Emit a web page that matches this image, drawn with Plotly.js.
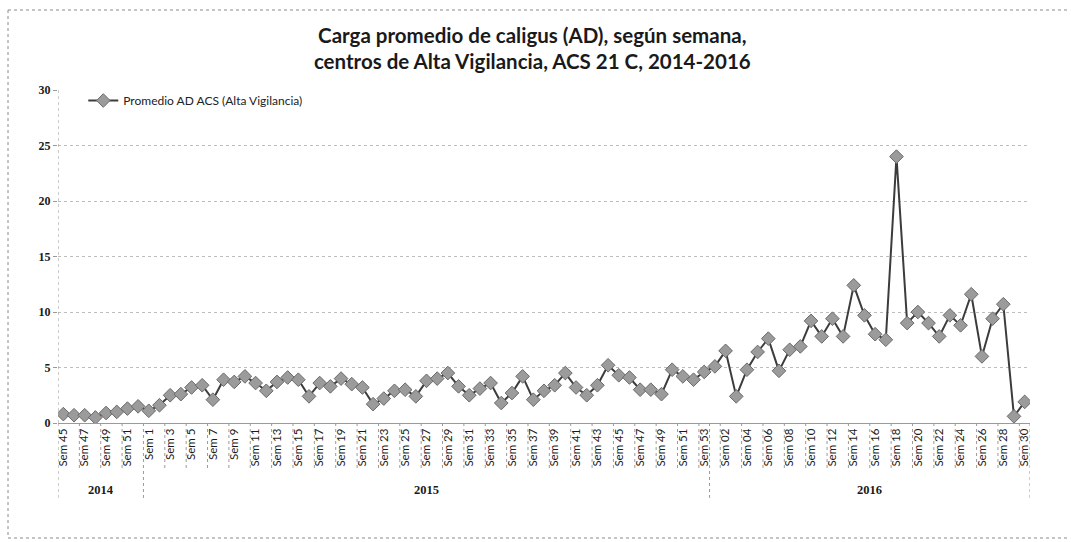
<!DOCTYPE html>
<html>
<head>
<meta charset="utf-8">
<script src="https://cdn.plot.ly/plotly-3.0.1.min.js"></script>
<style>html,body{margin:0;padding:0;background:#fff;}#chart{width:1071px;height:542px;}</style>
</head>
<body>
<div id="chart"></div>
<script>
// ---- Data ----
const years = ["2014", "2015", "2016"];

const weeks2014 = ["Sem 45","Sem 46","Sem 47","Sem 48","Sem 49","Sem 50","Sem 51","Sem 52"];
const values2014 = [0.8, 0.7, 0.7, 0.5, 0.9, 1.0, 1.3, 1.5];

const weeks2015 = ["Sem 1","Sem 2","Sem 3","Sem 4","Sem 5","Sem 6","Sem 7","Sem 8","Sem 9","Sem 10",
  "Sem 11","Sem 12","Sem 13","Sem 14","Sem 15","Sem 16","Sem 17","Sem 18","Sem 19","Sem 20",
  "Sem 21","Sem 22","Sem 23","Sem 24","Sem 25","Sem 26","Sem 27","Sem 28","Sem 29","Sem 30",
  "Sem 31","Sem 32","Sem 33","Sem 34","Sem 35","Sem 36","Sem 37","Sem 38","Sem 39","Sem 40",
  "Sem 41","Sem 42","Sem 43","Sem 44","Sem 45","Sem 46","Sem 47","Sem 48","Sem 49","Sem 50",
  "Sem 51","Sem 52","Sem 53"];
const values2015 = [1.1, 1.6, 2.5, 2.6, 3.2, 3.4, 2.1, 3.9, 3.7, 4.2,
  3.6, 2.9, 3.7, 4.1, 3.9, 2.4, 3.6, 3.3, 4.0, 3.5,
  3.2, 1.7, 2.2, 2.9, 3.0, 2.4, 3.8, 4.0, 4.5, 3.3,
  2.5, 3.1, 3.6, 1.8, 2.7, 4.2, 2.1, 2.9, 3.4, 4.5,
  3.2, 2.5, 3.4, 5.2, 4.3, 4.1, 3.0, 3.0, 2.6, 4.8,
  4.2, 3.9, 4.6];

const weeks2016 = ["Sem 01","Sem 02","Sem 03","Sem 04","Sem 05","Sem 06","Sem 07","Sem 08","Sem 09","Sem 10",
  "Sem 11","Sem 12","Sem 13","Sem 14","Sem 15","Sem 16","Sem 17","Sem 18","Sem 19","Sem 20",
  "Sem 21","Sem 22","Sem 23","Sem 24","Sem 25","Sem 26","Sem 27","Sem 28","Sem 29","Sem 30"];
const values2016 = [5.1, 6.5, 2.4, 4.8, 6.4, 7.6, 4.7, 6.6, 6.9, 9.2,
  7.8, 9.4, 7.8, 12.4, 9.7, 8.0, 7.5, 24.0, 9.0, 10.0,
  9.0, 7.8, 9.7, 8.8, 11.6, 6.0, 9.4, 10.7, 0.6, 1.9];

const seriesName = "Promedio AD ACS (Alta Vigilancia)";
const titleText = "Carga promedio de caligus (AD), según semana,<br>centros de Alta Vigilancia, ACS 21 C, 2014-2016";

// ---- Build category axis ----
const groups = [
  {year: years[0], weeks: weeks2014, values: values2014},
  {year: years[1], weeks: weeks2015, values: values2015},
  {year: years[2], weeks: weeks2016, values: values2016}
];
const keys = [], labels = [], vals = [];
const groupBounds = [];
groups.forEach(g => {
  const start = keys.length;
  g.weeks.forEach((w, i) => {
    keys.push(g.year + " " + w);
    labels.push(w);
    vals.push(g.values[i]);
  });
  groupBounds.push({year: g.year, start: start - 0.5, end: keys.length - 0.5});
});
const n = keys.length;

const tickvals = [], ticktext = [];
for (let i = 0; i < n; i += 2) { tickvals.push(keys[i]); ticktext.push(labels[i]); }

// ---- Divider shapes under the axis ----
const shortLen = -0.144, longLen = -0.225;
const dash = {color: "#9a9a9a", width: 1, dash: "dot"};
const shapes = [];
const longSet = new Set();
groupBounds.forEach(b => { longSet.add(b.start); longSet.add(b.end); });
for (let i = -0.5; i < n; i += 2) {
  if (!longSet.has(i)) shapes.push({type: "line", xref: "x", yref: "paper", x0: i, x1: i, y0: 0, y1: shortLen, line: dash});
}
longSet.forEach(b => {
  shapes.push({type: "line", xref: "x", yref: "paper", x0: b, x1: b, y0: 0, y1: longLen, line: dash});
});
// left axis line (dotted)
shapes.push({type: "line", xref: "x", yref: "paper", x0: -0.5, x1: -0.5, y0: 0, y1: 1, line: dash});
// outer chart frame (dotted)
const frame = {color: "#8a8a8a", width: 1, dash: "dot"};
shapes.push({type: "line", xref: "paper", yref: "paper", x0: -50/972, x1: 1.04, y0: 1 + 80/333, y1: 1 + 80/333, line: frame});
shapes.push({type: "line", xref: "paper", yref: "paper", x0: -50/972, x1: -50/972, y0: 1 + 80/333, y1: -115/333, line: frame});
shapes.push({type: "line", xref: "paper", yref: "paper", x0: -50/972, x1: 1.04, y0: -115/333, y1: -115/333, line: frame});

const annotations = groupBounds.map(b => ({
  x: (b.start + b.end) / 2, xref: "x", y: -0.201, yref: "paper",
  text: b.year, showarrow: false, xanchor: "center", yanchor: "middle",
  font: {family: "Liberation Serif, DejaVu Serif, serif", size: 12.5, color: "#1a1a1a", weight: 700}
}));

const trace = {
  type: "scatter", mode: "lines+markers", name: seriesName,
  x: keys, y: vals,
  line: {color: "#3c3c3c", width: 2},
  marker: {symbol: "diamond", size: 10.5, color: "#9b9b9b", line: {color: "#6a6a6a", width: 1}}
};

const layout = {
  width: 1071, height: 542,
  margin: {l: 58, r: 41, t: 90, b: 119},
  paper_bgcolor: "#fff", plot_bgcolor: "#fff",
  title: {
    text: titleText, x: 0.497, xanchor: "center", y: 0.921, yanchor: "top",
    font: {family: "Lato, Open Sans, sans-serif", size: 20.5, color: "#1a1a1a", weight: 700}
  },
  showlegend: true,
  legend: {
    x: 0.026, y: 1.012, xanchor: "left", yanchor: "top", bgcolor: "rgba(0,0,0,0)",
    font: {family: "Lato, sans-serif", size: 12, color: "#222"}
  },
  xaxis: {
    type: "category", categoryorder: "array", categoryarray: keys,
    range: [-0.5, n - 0.5],
    tickmode: "array", tickvals: tickvals, ticktext: ticktext, tickangle: -90,
    ticks: "", showgrid: false, zeroline: false,
    showline: true, linecolor: "#9a9a9a", linewidth: 1,
    tickfont: {family: "Lato, sans-serif", size: 11.5, color: "#1a1a1a"}
  },
  yaxis: {
    range: [0, 30], dtick: 5, tick0: 0,
    showgrid: true, gridcolor: "#bdbdbd", griddash: "dot", gridwidth: 1,
    zeroline: false, showline: false,
    ticks: "outside", ticklen: 4, tickcolor: "#9a9a9a",
    tickfont: {family: "Liberation Serif, DejaVu Serif, serif", size: 12, color: "#1a1a1a", weight: 700}
  },
  shapes: shapes,
  annotations: annotations
};

Plotly.newPlot("chart", [trace], layout, {displayModeBar: false, staticPlot: true});
</script>
</body>
</html>
